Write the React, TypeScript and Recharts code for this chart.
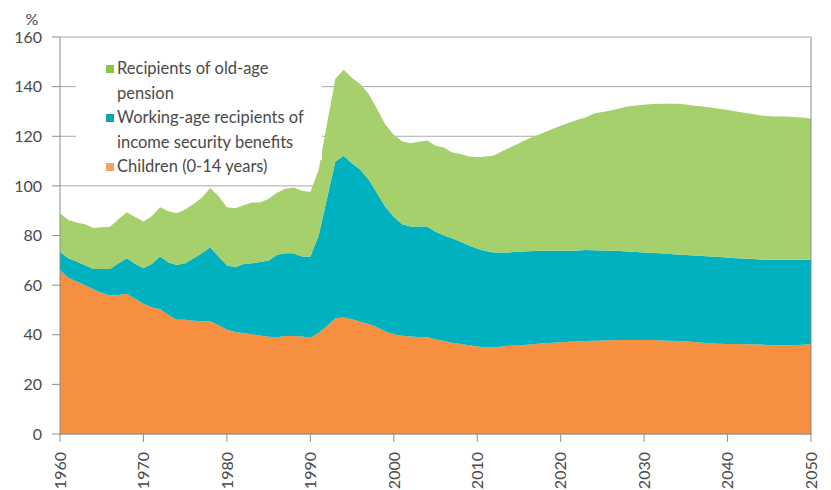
import React from 'react';
import { AreaChart, Area, XAxis, YAxis, CartesianGrid, ReferenceLine } from 'recharts';

const years: number[] = [
  1960, 1961, 1962, 1963, 1964, 1965, 1966, 1967, 1968, 1969,
  1970, 1971, 1972, 1973, 1974, 1975, 1976, 1977, 1978, 1979,
  1980, 1981, 1982, 1983, 1984, 1985, 1986, 1987, 1988, 1989,
  1990, 1991, 1992, 1993, 1994, 1995, 1996, 1997, 1998, 1999,
  2000, 2001, 2002, 2003, 2004, 2005, 2006, 2007, 2008, 2009,
  2010, 2011, 2012, 2013, 2014, 2015, 2016, 2017, 2018, 2019,
  2020, 2021, 2022, 2023, 2024, 2025, 2026, 2027, 2028, 2029,
  2030, 2031, 2032, 2033, 2034, 2035, 2036, 2037, 2038, 2039,
  2040, 2041, 2042, 2043, 2044, 2045, 2046, 2047, 2048, 2049,
  2050,
];

const children: number[] = [
  66, 63, 61.5, 60, 58.3, 56.8, 55.8, 56, 56.5, 54.5,
  52.5, 51.1, 50.3, 48, 46, 46, 45.6, 45.4, 45.4, 43.8,
  42, 41.1, 40.6, 40.2, 39.7, 39.2, 39, 39.5, 39.5, 39.3,
  38.8, 40.8, 43.5, 46.6, 47, 46.2, 45.2, 44.3, 43, 41.3,
  40.3, 39.6, 39.3, 39.1, 39, 38.2, 37.5, 36.8, 36.3, 35.8,
  35.3, 35, 35, 35.3, 35.6, 35.8, 36, 36.3, 36.6, 36.8,
  37, 37.2, 37.3, 37.5, 37.6, 37.7, 37.8, 37.9, 37.9, 37.9,
  37.9, 37.9, 37.7, 37.6, 37.5, 37.3, 37.1, 36.8, 36.6, 36.4,
  36.3, 36.3, 36.2, 36.2, 36.1, 35.8, 35.8, 35.8, 35.8, 36,
  36.3,
];

const workingAge: number[] = [
  7.5, 7.8, 8.0, 8.0, 8.2, 9.7, 10.7, 12.8, 14.3, 14.1,
  14.3, 17.4, 21.2, 21.1, 22.1, 22.8, 25.2, 27.4, 29.9, 27.7,
  26.0, 26.1, 27.9, 28.6, 29.6, 30.7, 33.2, 33.3, 33.3, 32.2,
  32.7, 39.2, 51.5, 63.2, 65.1, 62.8, 61.3, 58.2, 54.0, 50.2,
  47.3, 44.9, 44.3, 44.5, 44.6, 43.3, 42.5, 42.1, 41.2, 40.2,
  39.5, 38.8, 38.1, 37.8, 37.6, 37.7, 37.7, 37.5, 37.3, 37.1,
  36.9, 36.7, 36.7, 36.7, 36.5, 36.3, 36.1, 35.9, 35.7, 35.4,
  35.2, 35.0, 35.1, 34.9, 34.8, 34.8, 34.8, 34.9, 34.9, 34.9,
  34.8, 34.5, 34.5, 34.3, 34.2, 34.4, 34.4, 34.4, 34.4, 34.2,
  33.9,
];

const oldAgePension: number[] = [
  15.5, 15.4, 15.7, 16.5, 16.5, 16.8, 17.0, 17.7, 18.6, 18.9,
  18.8, 19.3, 19.9, 20.7, 20.9, 21.7, 21.9, 22.4, 23.8, 24.3,
  23.4, 23.8, 23.7, 24.5, 24.0, 24.9, 25.0, 26.0, 26.5, 26.5,
  26.0, 26.5, 30.0, 33.4, 34.7, 34.5, 34.5, 34.5, 34.0, 33.1,
  33.0, 33.5, 33.6, 34.2, 34.7, 34.7, 35.5, 34.6, 35.3, 35.8,
  36.7, 38.0, 39.1, 40.9, 42.4, 43.7, 45.1, 46.4, 47.6, 49.0,
  50.3, 51.5, 52.6, 53.4, 55.1, 55.8, 56.5, 57.4, 58.4, 59.1,
  59.6, 60.1, 60.3, 60.6, 60.8, 60.7, 60.4, 60.3, 60.1, 59.8,
  59.5, 59.2, 58.8, 58.5, 58.1, 57.9, 57.8, 57.8, 57.6, 57.4,
  56.9,
];

const xTicks: number[] = [1960, 1970, 1980, 1990, 2000, 2010, 2020, 2030, 2040, 2050];
const yTicks: number[] = [0, 20, 40, 60, 80, 100, 120, 140, 160];

const seriesNames = {
  pension: 'Recipients of old-age pension',
  working: 'Working-age recipients of income security benefits',
  children: 'Children (0-14 years)',
};

const legendLines: { key: string; color: string; lines: string[] }[] = [
  { key: 'pension', color: '#8dc63f', lines: ['Recipients of old-age', 'pension'] },
  { key: 'working', color: '#0aa4b4', lines: ['Working-age recipients of', 'income security benefits'] },
  { key: 'children', color: '#f7a066', lines: ['Children (0-14 years)'] },
];

const data = years.map((y, i) => ({
  year: y,
  children: children[i],
  working: workingAge[i],
  pension: oldAgePension[i],
}));

const FONT = 'Lato, "Open Sans", sans-serif';
const TEXT = '#4a4a4a';
const GRID = '#a9a9a9';
const AXIS = '#8c8c8c';

const XTick = (props: any) => {
  const { x, y, payload } = props;
  return (
    <text
      x={0}
      y={0}
      transform={`translate(${x},${y + 8}) rotate(-90)`}
      textAnchor="end"
      dy="0.36em"
      fontSize={16}
      fontFamily={FONT}
      fill={TEXT}
    >
      {payload.value}
    </text>
  );
};

const LegendBox = () => (
  <div
    style={{
      position: 'absolute',
      left: 76,
      top: 54,
      width: 246,
      height: 106,
      overflow: 'visible',
      background: '#ffffff',
      padding: '2px 0 0 30px',
      boxSizing: 'border-box',
      fontFamily: FONT,
      fontSize: 16.5,
      color: TEXT,
      lineHeight: '24.5px',
      whiteSpace: 'nowrap',
    }}
  >
    {legendLines.map((item) => (
      <div key={item.key} style={{ display: 'flex', alignItems: 'flex-start' }}>
        <span
          style={{
            display: 'inline-block',
            width: 8,
            height: 8,
            background: item.color,
            marginTop: 9,
            marginRight: 3,
            flex: '0 0 auto',
          }}
        />
        <span>
          {item.lines.map((l, j) => (
            <div key={j}>{l}</div>
          ))}
        </span>
      </div>
    ))}
  </div>
);

export default function App() {
  return (
    <div style={{ position: 'absolute', left: 0, top: 0, width: 831, height: 490 }}>
      <AreaChart
        width={831}
        height={490}
        data={data}
        margin={{ top: 37, right: 20, bottom: 6, left: 10 }}
      >
        <CartesianGrid horizontal={true} vertical={false} stroke={GRID} strokeWidth={1} />
        <XAxis
          dataKey="year"
          type="number"
          domain={[1960, 2050]}
          ticks={xTicks}
          interval={0}
          height={50}
          tick={<XTick />}
          tickSize={8}
          tickLine={{ stroke: AXIS }}
          axisLine={{ stroke: AXIS }}
        />
        <YAxis
          domain={[0, 160]}
          ticks={yTicks}
          interval={0}
          width={50}
          tickSize={8}
          tickMargin={10}
          tickLine={{ stroke: AXIS }}
          axisLine={{ stroke: AXIS }}
          tick={{ fontSize: 16, fontFamily: FONT, fill: TEXT }}
        />
        <ReferenceLine x={2050} stroke={AXIS} ifOverflow="extendDomain" />
        <Area
          type="linear"
          dataKey="children"
          name={seriesNames.children}
          stackId="a"
          stroke="none"
          fill="#f68f40"
          fillOpacity={1}
          isAnimationActive={false}
        />
        <Area
          type="linear"
          dataKey="working"
          name={seriesNames.working}
          stackId="a"
          stroke="none"
          fill="#00b1bf"
          fillOpacity={1}
          isAnimationActive={false}
        />
        <Area
          type="linear"
          dataKey="pension"
          name={seriesNames.pension}
          stackId="a"
          stroke="none"
          fill="#a6d06b"
          fillOpacity={1}
          isAnimationActive={false}
        />
        <text x={32} y={25} textAnchor="middle" fontSize={16} fontFamily={FONT} fill={TEXT}>
          %
        </text>
      </AreaChart>
      <LegendBox />
    </div>
  );
}
